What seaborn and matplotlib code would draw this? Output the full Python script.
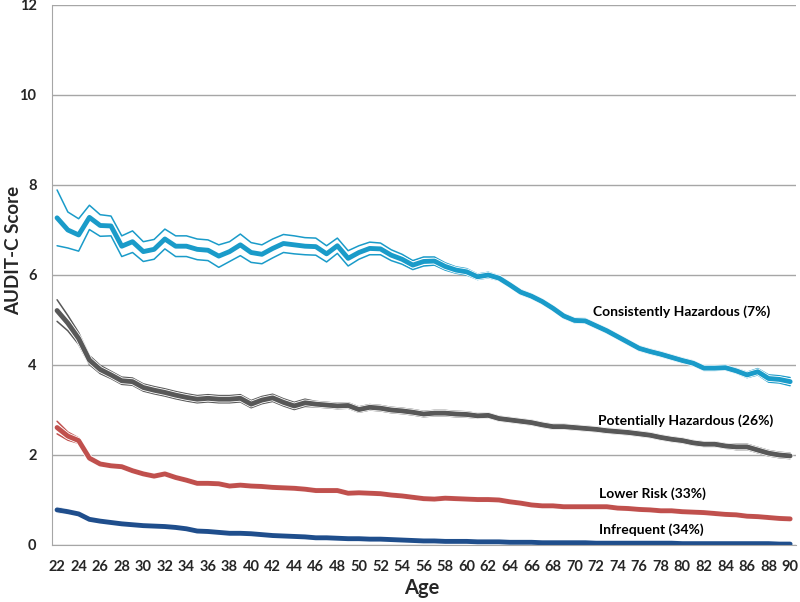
import matplotlib
matplotlib.use("Agg")
import matplotlib.pyplot as plt
import matplotlib.patheffects as pe
import numpy as np
import pandas as pd
import seaborn as sns

ages = list(range(22, 91))

# mean AUDIT-C score per trajectory group, ages 22..90
consistent = [7.27, 7.0, 6.89, 7.28, 7.1, 7.09, 6.64, 6.74, 6.52, 6.57, 6.8, 6.64, 6.64, 6.57, 6.55,
              6.42, 6.52, 6.67, 6.5, 6.46, 6.59, 6.7, 6.67, 6.64, 6.63, 6.47, 6.65, 6.37, 6.5, 6.59,
              6.58, 6.44, 6.35, 6.22, 6.3, 6.31, 6.19, 6.11, 6.07, 5.96, 6.0, 5.93, 5.78, 5.62, 5.53,
              5.41, 5.26, 5.09, 4.99, 4.98, 4.87, 4.76, 4.63, 4.5, 4.37, 4.3, 4.24, 4.17, 4.1, 4.04,
              3.93, 3.93, 3.94, 3.87, 3.78, 3.85, 3.7, 3.68, 3.63]
potential = [5.21, 4.93, 4.59, 4.11, 3.9, 3.78, 3.65, 3.63, 3.5, 3.44, 3.39, 3.33, 3.28, 3.24, 3.26,
             3.24, 3.24, 3.26, 3.13, 3.22, 3.27, 3.17, 3.09, 3.16, 3.13, 3.11, 3.09, 3.1, 3.01, 3.06,
             3.04, 3.0, 2.98, 2.95, 2.91, 2.93, 2.93, 2.91, 2.9, 2.87, 2.88, 2.81, 2.78, 2.75, 2.72,
             2.67, 2.63, 2.63, 2.61, 2.59, 2.57, 2.54, 2.52, 2.5, 2.47, 2.44, 2.39, 2.35, 2.32, 2.27,
             2.24, 2.24, 2.2, 2.18, 2.18, 2.11, 2.04, 2.0, 1.98]
lower_risk = [2.61, 2.42, 2.32, 1.93, 1.8, 1.76, 1.74, 1.65, 1.58, 1.53, 1.58, 1.5, 1.44, 1.37, 1.37,
              1.36, 1.31, 1.33, 1.31, 1.3, 1.28, 1.27, 1.26, 1.24, 1.21, 1.21, 1.21, 1.15, 1.16, 1.15,
              1.14, 1.11, 1.09, 1.06, 1.03, 1.02, 1.04, 1.03, 1.02, 1.01, 1.01, 1.0, 0.96, 0.93, 0.89,
              0.87, 0.87, 0.85, 0.85, 0.85, 0.85, 0.85, 0.82, 0.81, 0.79, 0.78, 0.76, 0.76, 0.74, 0.73,
              0.72, 0.7, 0.68, 0.67, 0.64, 0.63, 0.61, 0.59, 0.58]
infrequent = [0.78, 0.74, 0.69, 0.57, 0.53, 0.5, 0.47, 0.45, 0.43, 0.42, 0.41, 0.39, 0.36, 0.31, 0.3,
              0.28, 0.26, 0.26, 0.25, 0.23, 0.21, 0.2, 0.19, 0.18, 0.16, 0.16, 0.15, 0.14, 0.14, 0.13,
              0.13, 0.12, 0.11, 0.1, 0.09, 0.09, 0.08, 0.08, 0.08, 0.07, 0.07, 0.07, 0.06, 0.06, 0.06,
              0.05, 0.05, 0.05, 0.05, 0.05, 0.04, 0.04, 0.04, 0.04, 0.04, 0.04, 0.04, 0.04, 0.03, 0.03,
              0.03, 0.03, 0.03, 0.03, 0.03, 0.03, 0.03, 0.02, 0.02]

# half-width of the confidence band around each mean
consistent_ci = [0.62, 0.4, 0.36, 0.27, 0.24, 0.22, 0.23, 0.24, 0.22, 0.22, 0.22, 0.23, 0.23, 0.23, 0.23,
                 0.25, 0.22, 0.24, 0.22, 0.21, 0.21, 0.2, 0.2, 0.19, 0.19, 0.18, 0.17, 0.17, 0.15, 0.14,
                 0.13, 0.12, 0.11, 0.1, 0.1, 0.09, 0.08, 0.07, 0.07, 0.06, 0.06, 0.05, 0.05, 0.05, 0.05,
                 0.05, 0.05, 0.05, 0.05, 0.05, 0.05, 0.05, 0.05, 0.05, 0.05, 0.05, 0.05, 0.05, 0.05, 0.05,
                 0.05, 0.05, 0.05, 0.05, 0.06, 0.07, 0.08, 0.08, 0.09]
potential_ci = [0.24, 0.17, 0.13, 0.1, 0.09, 0.08, 0.08, 0.08, 0.08, 0.08, 0.08, 0.08, 0.08, 0.08, 0.08,
                0.08, 0.08, 0.08, 0.08, 0.08, 0.08, 0.08, 0.08, 0.08, 0.06, 0.06, 0.06, 0.06, 0.06, 0.06,
                0.06, 0.06, 0.06, 0.06, 0.06, 0.06, 0.06, 0.06, 0.06, 0.05, 0.05, 0.05, 0.05, 0.05, 0.05,
                0.05, 0.05, 0.05, 0.05, 0.05, 0.05, 0.05, 0.05, 0.05, 0.05, 0.05, 0.05, 0.05, 0.05, 0.05,
                0.05, 0.05, 0.05, 0.06, 0.06, 0.06, 0.06, 0.06, 0.06]
lower_risk_ci = [0.14, 0.09, 0.06, 0.05] + [0.04] * 65
infrequent_ci = [0.05, 0.04, 0.03] + [0.02] * 66

groups = ["Consistently Hazardous (7%)", "Potentially Hazardous (26%)",
          "Lower Risk (33%)", "Infrequent (34%)"]
colors = ["#1A9BC9", "#585858", "#C0504D", "#1F4E8C"]
label_pos = [(71.7, 5.19), (72.2, 2.77), (72.3, 1.15), (72.3, 0.35)]

sns.set_style("white")
plt.rcParams["font.family"] = ["Lato", "DejaVu Sans"]
plt.rcParams["font.weight"] = "bold"

fig = plt.figure(figsize=(8, 6.02), dpi=100)
ax = fig.add_axes([0.0646, 0.0947, 0.9298, 0.897])

series = [(consistent, consistent_ci), (potential, potential_ci),
          (lower_risk, lower_risk_ci), (infrequent, infrequent_ci)]
for (mean, hw), color in zip(series, colors):
    df = pd.DataFrame({"Age": ages, "mean": mean, "hw": hw})
    df["lo"] = df["mean"] - df["hw"]
    df["hi"] = df["mean"] + df["hw"]
    for col in ["lo", "hi"]:
        sns.lineplot(data=df, x="Age", y=col, color=color, lw=1.1, ax=ax)
    sns.lineplot(data=df, x="Age", y="mean", color=color, lw=3.5, ax=ax,
                 path_effects=[pe.Stroke(linewidth=4.7, foreground="white"), pe.Normal()])

for name, (x, y) in zip(groups, label_pos):
    ax.text(x, y, name, fontsize=10, fontweight="bold", ha="left", va="center", color="black")

ax.set_xlim(21.5, 90.5)
ax.set_ylim(0, 12)
ax.set_yticks(range(0, 13, 2))
ax.set_xticks(range(22, 91, 2))
ax.set_xticks(np.arange(21.5, 91, 1), minor=True)
ax.yaxis.grid(True, color="#A6A6A6", lw=1)
ax.set_axisbelow(True)
for side in ["top", "right"]:
    ax.spines[side].set_visible(False)
for side in ["left", "bottom"]:
    ax.spines[side].set_color("#A6A6A6")
ax.tick_params(axis="x", which="major", length=0, pad=11, labelsize=10.5)
ax.tick_params(axis="x", which="minor", length=4, color="#A6A6A6", direction="out")
ax.tick_params(axis="y", length=4, color="#A6A6A6", direction="out", pad=7, labelsize=10.5)
for lbl in ax.get_xticklabels() + ax.get_yticklabels():
    lbl.set_fontweight("bold")

ax.set_xlabel("Age", fontsize=14.5, fontweight="bold", va="center")
ax.set_ylabel("AUDIT-C Score", fontsize=13.5, fontweight="bold", va="center")
ax.xaxis.set_label_coords(0.497, -0.08)
ax.yaxis.set_label_coords(-0.051, 0.545)

fig.savefig("out.png", dpi=100)
